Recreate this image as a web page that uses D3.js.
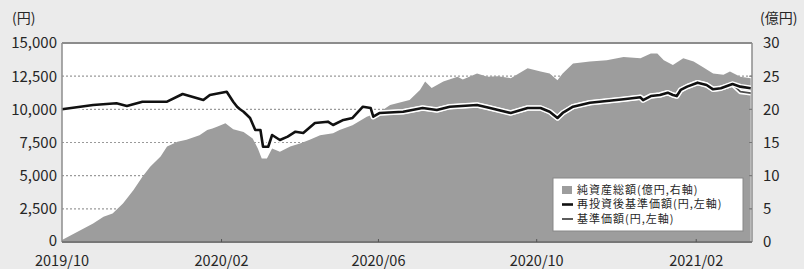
<!DOCTYPE html>
<html>
<head>
<meta charset="utf-8">
<script src="https://cdn.jsdelivr.net/npm/d3@7"></script>
<style>
  body { margin: 0; background: #ebebeb; }
  svg { display: block; }
  text { font-family: "Noto Sans CJK JP", "Noto Sans", sans-serif; fill: #262626; }
</style>
</head>
<body>
<div id="chart"></div>
<script>
// 再投資後基準価額 (円)
var navDates = ["2019-10-01","2019-10-25","2019-11-12","2019-11-20","2019-12-02","2019-12-21","2020-01-02",
  "2020-01-18","2020-01-23","2020-02-05","2020-02-10","2020-02-13","2020-02-15","2020-02-18","2020-02-23",
  "2020-02-27","2020-03-02","2020-03-04","2020-03-08","2020-03-11","2020-03-17","2020-03-23","2020-03-29",
  "2020-04-04","2020-04-13","2020-04-23","2020-04-27","2020-05-05","2020-05-12","2020-05-20","2020-05-26",
  "2020-05-28","2020-06-02","2020-06-20","2020-07-05","2020-07-16","2020-07-26","2020-08-16","2020-08-26",
  "2020-09-11","2020-09-24","2020-10-04","2020-10-11","2020-10-17","2020-10-21","2020-10-29","2020-11-11",
  "2020-11-24","2020-12-07","2020-12-20","2020-12-22","2020-12-28","2021-01-04","2021-01-10","2021-01-14",
  "2021-01-17","2021-01-20","2021-01-25","2021-02-02","2021-02-09","2021-02-14","2021-02-20","2021-03-01",
  "2021-03-07","2021-03-15"];
var navReinvest = [10000,10330,10455,10250,10575,10575,11156,
  10700,11080,11330,10575,10200,10025,9820,9350,
  8440,8440,7180,7180,8065,7690,7940,8315,
  8215,8970,9070,8820,9200,9350,10200,10100,
  9445,9725,9820,10100,9950,10200,10330,10100,
  9725,10100,10100,9820,9350,9725,10200,10500,
  10630,10760,10910,10700,11000,11080,11255,11080,
  11000,11460,11710,12010,11835,11510,11590,11910,
  11710,11590];
// 基準価額 (円)
var navBase = [10000,10330,10455,10250,10575,10575,11156,
  10700,11080,11330,10575,10200,10025,9820,9350,
  8440,8440,7180,7180,8065,7690,7940,8315,
  8215,8970,9070,8820,9200,9350,10200,10100,
  9445,9725,9820,10100,9950,10200,10330,10100,
  9725,10100,10100,9820,9350,9725,10200,10500,
  10630,10760,10910,10700,11000,11080,11255,11080,
  11000,11460,11710,12010,11835,11510,11590,11880,
  11330,11220];

// 純資産総額 (億円)
var assetDates = ["2019-10-01","2019-10-13","2019-10-25","2019-11-02","2019-11-09","2019-11-17","2019-11-25",
  "2019-12-02","2019-12-08","2019-12-16","2019-12-21","2019-12-29","2020-01-05","2020-01-15","2020-01-21",
  "2020-01-25","2020-01-29","2020-02-04","2020-02-10","2020-02-18","2020-02-25","2020-02-29","2020-03-03",
  "2020-03-07","2020-03-11","2020-03-17","2020-03-25","2020-04-02","2020-04-09","2020-04-17","2020-04-27",
  "2020-05-02","2020-05-12","2020-05-23","2020-06-02","2020-06-10","2020-06-25","2020-07-03","2020-07-07",
  "2020-07-12","2020-07-21","2020-08-01","2020-08-05","2020-08-16","2020-08-24","2020-09-01","2020-09-11",
  "2020-09-24","2020-10-04","2020-10-11","2020-10-17","2020-10-21","2020-10-29","2020-11-11","2020-11-24",
  "2020-12-07","2020-12-20","2020-12-28","2021-01-02","2021-01-07","2021-01-14","2021-01-22","2021-01-30",
  "2021-02-06","2021-02-14","2021-02-22","2021-02-27","2021-03-07","2021-03-15"];
var assetValues = [0.3,1.55,2.8,3.8,4.3,5.8,7.8,
  9.85,11.35,12.9,14.4,15.1,15.4,16.1,16.9,
  17.1,17.4,17.9,17.0,16.6,15.6,14.1,12.6,
  12.6,14.1,13.6,14.4,14.9,15.4,16.1,16.4,
  16.9,17.6,18.9,19.6,20.65,21.4,22.9,24.2,
  23.2,24.2,24.9,24.5,25.4,24.9,25.0,24.7,
  26.2,25.7,25.4,24.4,25.4,26.9,27.2,27.4,
  27.9,27.7,28.4,28.4,27.4,26.7,27.7,27.2,
  26.4,25.4,25.2,25.7,24.9,24.7];

var leftTicks = [0, 2500, 5000, 7500, 10000, 12500, 15000];
var rightTicks = [0, 5, 10, 15, 20, 25, 30];
var xTickDates = ["2019-10-01","2020-02-01","2020-06-01","2020-10-01","2021-02-01"];
var legendLabels = ["純資産総額(億円,右軸)", "再投資後基準価額(円,左軸)", "基準価額(円,左軸)"];

var W = 804, H = 269;
var margin = { top: 43, right: 52, bottom: 27, left: 62 };
var width = W - margin.left - margin.right,
  height = H - margin.top - margin.bottom;

var parse = d3.timeParse("%Y-%m-%d");
var fmtTick = d3.timeFormat("%Y/%m");

var svg = d3.select("#chart").append("svg")
  .attr("width", W)
  .attr("height", H);

var g = svg.append("g")
  .attr("transform", "translate(" + margin.left + "," + margin.top + ")");

var x = d3.scaleTime()
  .domain([parse("2019-10-01"), parse("2021-03-16")])
  .range([0, width]);
var yL = d3.scaleLinear().domain([0, 15000]).range([height, 0]);
var yR = d3.scaleLinear().domain([0, 30]).range([height, 0]);

// plot background
g.append("rect")
  .attr("width", width)
  .attr("height", height)
  .attr("fill", "#fff");

// dotted grid
g.append("g").selectAll("line")
  .data(leftTicks.filter(function(d) { return d > 0 && d < 15000; }))
  .enter().append("line")
  .attr("x1", 0).attr("x2", width)
  .attr("y1", function(d) { return yL(d); })
  .attr("y2", function(d) { return yL(d); })
  .attr("stroke", "#9a9a9a")
  .attr("stroke-width", 1.2)
  .attr("stroke-dasharray", "2,2");

// net assets area
var assets = assetDates.map(function(d, i) { return { date: parse(d), v: assetValues[i] }; });
var area = d3.area()
  .x(function(d) { return x(d.date); })
  .y0(height)
  .y1(function(d) { return yR(d.v); });
g.append("path")
  .datum(assets)
  .attr("d", area)
  .attr("fill", "#9d9d9d");

// nav lines
var base = navDates.map(function(d, i) { return { date: parse(d), v: navBase[i] }; });
var reinv = navDates.map(function(d, i) { return { date: parse(d), v: navReinvest[i] }; });
var line = d3.line()
  .x(function(d) { return x(d.date); })
  .y(function(d) { return yL(d.v); });

g.append("path").datum(base).attr("d", line)
  .attr("fill", "none").attr("stroke", "#fff").attr("stroke-width", 5).attr("stroke-linejoin", "round");
g.append("path").datum(base).attr("d", line)
  .attr("fill", "none").attr("stroke", "#4a4a4a").attr("stroke-width", 1.8).attr("stroke-linejoin", "round");
g.append("path").datum(reinv).attr("d", line)
  .attr("fill", "none").attr("stroke", "#fff").attr("stroke-width", 5.5).attr("stroke-linejoin", "round");
g.append("path").datum(reinv).attr("d", line)
  .attr("fill", "none").attr("stroke", "#111").attr("stroke-width", 2.6).attr("stroke-linejoin", "round");

// frame
g.append("line").attr("x1", 0).attr("x2", width).attr("y1", 0).attr("y2", 0)
  .attr("stroke", "#8c8c8c").attr("stroke-width", 2);
g.append("line").attr("x1", 0).attr("x2", 0).attr("y1", 0).attr("y2", height)
  .attr("stroke", "#8c8c8c").attr("stroke-width", 1.5);
g.append("line").attr("x1", width).attr("x2", width).attr("y1", 0).attr("y2", height)
  .attr("stroke", "#8c8c8c").attr("stroke-width", 1.5);
g.append("line").attr("x1", 0).attr("x2", width).attr("y1", height).attr("y2", height)
  .attr("stroke", "#777").attr("stroke-width", 2);

// left axis
var fmtL = d3.format(",");
g.append("g").selectAll("text")
  .data(leftTicks)
  .enter().append("text")
  .attr("x", -5)
  .attr("y", function(d) { return yL(d); })
  .attr("dy", function(d) { return d === 0 ? "0.25em" : "0.36em"; })
  .attr("text-anchor", "end")
  .style("font-size", "15px")
  .text(function(d) { return fmtL(d); });

// right axis
g.append("g").selectAll("line")
  .data(rightTicks.filter(function(d) { return d > 0 && d < 30; }))
  .enter().append("line")
  .attr("x1", width - 3).attr("x2", width)
  .attr("y1", function(d) { return yR(d); })
  .attr("y2", function(d) { return yR(d); })
  .attr("stroke", "#777").attr("stroke-width", 1);
g.append("g").selectAll("text")
  .data(rightTicks)
  .enter().append("text")
  .attr("x", width + 11)
  .attr("y", function(d) { return yR(d); })
  .attr("dy", "0.36em")
  .attr("text-anchor", "start")
  .style("font-size", "15px")
  .text(function(d) { return d; });

// bottom axis
var xt = xTickDates.map(parse);
g.append("g").selectAll("line")
  .data(xt.slice(1))
  .enter().append("line")
  .attr("x1", function(d) { return x(d); }).attr("x2", function(d) { return x(d); })
  .attr("y1", height - 3).attr("y2", height)
  .attr("stroke", "#555").attr("stroke-width", 1);
g.append("g").selectAll("text")
  .data(xt)
  .enter().append("text")
  .attr("x", function(d) { return x(d); })
  .attr("y", height + 24)
  .attr("text-anchor", "middle")
  .style("font-size", "14.5px")
  .text(function(d) { return fmtTick(d); });

// unit labels
svg.append("text").attr("x", 12).attr("y", 23).style("font-size", "14px").text("(円)");
svg.append("text").attr("x", 760).attr("y", 23).style("font-size", "14px").text("(億円)");

// legend
var lg = svg.append("g").attr("transform", "translate(553,178)");
lg.append("rect")
  .attr("width", 190).attr("height", 53)
  .attr("fill", "#fff").attr("stroke", "#888").attr("stroke-width", 1);
var rowsY = [12, 26.5, 41];
lg.append("rect").attr("x", 9).attr("y", rowsY[0] - 4).attr("width", 10).attr("height", 8).attr("fill", "#9d9d9d");
lg.append("line").attr("x1", 9).attr("x2", 20).attr("y1", rowsY[1]).attr("y2", rowsY[1])
  .attr("stroke", "#111").attr("stroke-width", 2.6);
lg.append("line").attr("x1", 9).attr("x2", 20).attr("y1", rowsY[2]).attr("y2", rowsY[2])
  .attr("stroke", "#4a4a4a").attr("stroke-width", 1.8);
lg.selectAll("text.lab")
  .data(legendLabels)
  .enter().append("text")
  .attr("class", "lab")
  .attr("x", 24)
  .attr("y", function(d, i) { return rowsY[i]; })
  .attr("dy", "0.35em")
  .style("font-size", "11px")
  .style("letter-spacing", "1px")
  .text(function(d) { return d; });
</script>
</body>
</html>
